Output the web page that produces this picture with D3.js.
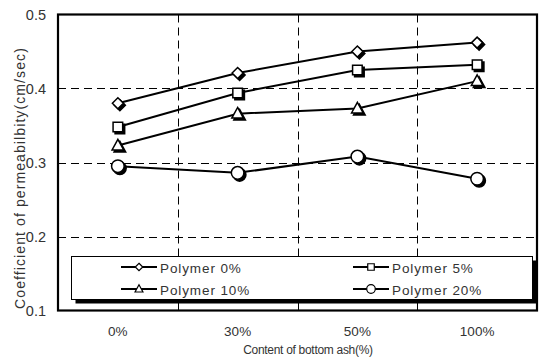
<!DOCTYPE html>
<html>
<head>
<meta charset="utf-8">
<script src="https://cdn.jsdelivr.net/npm/d3@7"></script>
<style>
  html, body { margin: 0; padding: 0; background: #fff; }
  svg { display: block; }
  text { font-family: "Liberation Sans", Arial, sans-serif; fill: #333; }
</style>
</head>
<body>
<svg id="chart" width="539" height="359"></svg>
<script>
// Bottom-ash content categories
const categories = ["0%", "30%", "50%", "100%"];
// Coefficient of permeability (cm/sec) per polymer content
const polymer0  = [0.380, 0.421, 0.450, 0.462];
const polymer5  = [0.348, 0.394, 0.425, 0.432];
const polymer10 = [0.323, 0.366, 0.373, 0.410];
const polymer20 = [0.295, 0.286, 0.308, 0.278];
const seriesNames = ["Polymer 0%", "Polymer 5%", "Polymer 10%", "Polymer 20%"];
const yTicks = [0.1, 0.2, 0.3, 0.4, 0.5];

const series = [
  { name: seriesNames[0], values: polymer0,  shape: "diamond" },
  { name: seriesNames[1], values: polymer5,  shape: "square" },
  { name: seriesNames[2], values: polymer10, shape: "triangle" },
  { name: seriesNames[3], values: polymer20, shape: "circle" }
];

const svg = d3.select("#chart");
const plot = { left: 58, right: 537, top: 14.5, bottom: 310.5 };

const x = d3.scaleBand().domain(categories).range([plot.left, plot.right]).padding(0);
const y = d3.scaleLinear().domain([0.1, 0.5]).range([plot.bottom, plot.top]);
const cx = d => x(d) + x.bandwidth() / 2;

// marker outlines centred on (0,0); s scales the glyph
function shapePath(shape, s) {
  switch (shape) {
    case "diamond": {
      const r = 5.5 * s;
      return `M0,${-r}L${r},0L0,${r}L${-r},0Z`;
    }
    case "square": {
      const h = 4.8 * s;
      return `M${-h},${-h}H${h}V${h}H${-h}Z`;
    }
    case "triangle": {
      const w = 5.8 * s, t = 6.2 * s, b = 4.4 * s;
      return `M0,${-t}L${w},${b}L${-w},${b}Z`;
    }
    default: {
      const r = 6.3 * s;
      const p = d3.path();
      p.moveTo(r, 0);
      p.arc(0, 0, r, 0, 2 * Math.PI);
      p.closePath();
      return p.toString();
    }
  }
}

// gridlines (dashed)
const grid = svg.append("g").attr("stroke", "#000").attr("stroke-width", 1)
  .attr("stroke-dasharray", "8,5").attr("fill", "none");
grid.selectAll("line.h").data(yTicks.filter(t => t > 0.1 && t < 0.5)).join("line")
  .attr("class", "h")
  .attr("x1", plot.left).attr("x2", plot.right)
  .attr("y1", d => Math.round(y(d)) + 0.5).attr("y2", d => Math.round(y(d)) + 0.5);
grid.selectAll("line.v").data(categories.slice(1)).join("line")
  .attr("class", "v")
  .attr("x1", d => Math.round(x(d)) + 0.5).attr("x2", d => Math.round(x(d)) + 0.5)
  .attr("y1", plot.top).attr("y2", plot.bottom);

// series lines
const line = d3.line().x((v, i) => cx(categories[i])).y(v => y(v));
svg.append("g").selectAll("path").data(series).join("path")
  .attr("d", s => line(s.values))
  .attr("fill", "none").attr("stroke", "#000").attr("stroke-width", 2);

// markers with drop shadow
const markers = svg.append("g");
series.forEach(s => {
  s.values.forEach((v, i) => {
    const g = markers.append("g").attr("transform", `translate(${cx(categories[i])},${y(v)})`);
    g.append("path").attr("d", shapePath(s.shape, 1))
      .attr("transform", "translate(2,2)").attr("fill", "#000").attr("stroke", "#000").attr("stroke-width", 1.5);
    g.append("path").attr("d", shapePath(s.shape, 1))
      .attr("fill", "#fff").attr("stroke", "#000").attr("stroke-width", 1.5);
  });
});

// legend
const lg = { x: 71.5, y: 256.5, w: 461, h: 43 };
svg.append("rect").attr("x", lg.x + 4).attr("y", lg.y + 4).attr("width", lg.w).attr("height", lg.h).attr("fill", "#000");
svg.append("rect").attr("x", lg.x).attr("y", lg.y).attr("width", lg.w).attr("height", lg.h)
  .attr("fill", "#fff").attr("stroke", "#000").attr("stroke-width", 1);
const legendPos = [
  { lx: 121, ty: 267 }, { lx: 353, ty: 267 },
  { lx: 121, ty: 289 }, { lx: 353, ty: 289 }
];
series.forEach((s, i) => {
  const p = legendPos[i];
  const g = svg.append("g").attr("transform", `translate(${p.lx},${p.ty})`);
  g.append("line").attr("x1", 0).attr("x2", 36).attr("y1", 0).attr("y2", 0)
    .attr("stroke", "#000").attr("stroke-width", 2);
  g.append("path").attr("d", shapePath(s.shape, 0.68)).attr("transform", "translate(18,0)")
    .attr("fill", "#fff").attr("stroke", "#000").attr("stroke-width", 1.2);
  g.append("text").attr("x", 39).attr("y", 5.5).attr("font-size", 13.5)
    .attr("letter-spacing", 0.9).text(s.name);
});

// bottom inside tick marks
svg.append("g").selectAll("line").data(categories.slice(1)).join("line")
  .attr("x1", d => Math.round(x(d)) + 0.5).attr("x2", d => Math.round(x(d)) + 0.5)
  .attr("y1", plot.bottom - 6).attr("y2", plot.bottom)
  .attr("stroke", "#000").attr("stroke-width", 1);

// plot frame
svg.append("rect").attr("x", plot.left).attr("y", plot.top)
  .attr("width", plot.right - plot.left).attr("height", plot.bottom - plot.top)
  .attr("fill", "none").attr("stroke", "#000").attr("stroke-width", 2.2);

// y tick labels
svg.append("g").selectAll("text").data(yTicks).join("text")
  .attr("x", 46).attr("y", d => y(d) + 5)
  .attr("text-anchor", "end").attr("font-size", 14.5).text(d => d.toFixed(1));

// x tick labels
svg.append("g").selectAll("text").data(categories).join("text")
  .attr("x", d => cx(d)).attr("y", 336)
  .attr("text-anchor", "middle").attr("font-size", 13.5).text(d => d);

// axis titles
svg.append("text").attr("x", 308).attr("y", 354).attr("text-anchor", "middle")
  .attr("font-size", 12).attr("letter-spacing", -0.3).text("Content of bottom ash(%)");
svg.append("text").attr("transform", "translate(25,178) rotate(-90)").attr("text-anchor", "middle")
  .attr("font-size", 14).attr("letter-spacing", 1.1).text("Coefficient of permeabilbity(cm/sec)");
</script>
</body>
</html>
